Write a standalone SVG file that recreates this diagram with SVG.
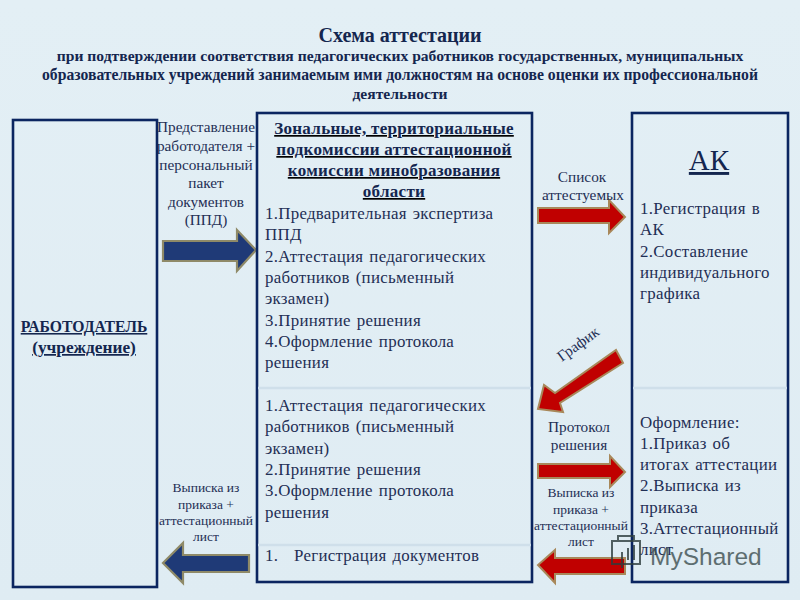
<svg xmlns="http://www.w3.org/2000/svg" width="800" height="600" viewBox="0 0 800 600">
<defs>
<linearGradient id="bg" x1="0" y1="0" x2="0" y2="1"><stop offset="0" stop-color="#e3eff5"/><stop offset="1" stop-color="#dfecf3"/></linearGradient>
</defs>
<style>
text{font-family:"Liberation Serif","Times New Roman",serif;fill:#1f2f55}
.box{fill:none;stroke:#0b2560;stroke-width:2.6}
.sep{stroke:#cfdfea;stroke-width:2.5}
.t{font-size:16.9px;letter-spacing:.27px;word-spacing:1.5px}
.s{font-size:15.3px;text-anchor:middle}
.xs{font-size:13.5px;text-anchor:middle}
.h{font-weight:bold;fill:#14264f}
.red{fill:#c00000;stroke:#a8885a;stroke-width:2}
.blue{fill:#1f3a77;stroke:#8f8a68;stroke-width:2.2}
</style>
<rect width="800" height="600" fill="url(#bg)"/>
<g id="title">
<text class="h" x="400" y="42" text-anchor="middle" font-size="20">Схема аттестации</text>
<text class="h" x="400" y="61" text-anchor="middle" font-size="15.6">при подтверждении соответствия педагогических работников государственных, муниципальных</text>
<text class="h" x="400" y="80" text-anchor="middle" font-size="15.7">образовательных учреждений занимаемым ими должностям на основе оценки их профессиональной</text>
<text class="h" x="400" y="99" text-anchor="middle" font-size="15.6">деятельности</text>
</g>
<g id="connectors">
<path id="arrow-ppd" class="blue" d="M163 241H237V230L256 250L237 271V261H163Z"/>
<path id="arrow-list" class="red" d="M538 208H609V200L625 217L609 233V223H538Z"/>
<path id="arrow-schedule" class="red" d="M616 350L623 363L560 403L563 412L538 409L544 385L555 393Z"/>
<path id="arrow-protocol" class="red" d="M538 464H610V456L625 472L610 487V478H538Z"/>
<path id="arrow-extract-right" class="red" d="M625 558V574H555V583L538 565L555 550V558Z"/>
<path id="arrow-extract-left" class="blue" d="M249 555V572H183V583L163 563L183 543V555Z"/>
</g>
<g id="employer">
<rect class="box" x="13" y="120" width="144" height="467"/>
<text class="h" x="84" y="332" text-anchor="middle" font-size="15.7" text-decoration="underline">РАБОТОДАТЕЛЬ</text>
<text class="h" x="84" y="353" text-anchor="middle" font-size="17.3" text-decoration="underline">(учреждение)</text>
</g>
<g id="subcommission">
<rect class="box" x="257" y="113" width="275" height="469"/>
<line class="sep" x1="258" y1="388" x2="531" y2="388"/>
<line class="sep" x1="258" y1="545" x2="531" y2="545"/>
<g font-size="17" text-anchor="middle" text-decoration="underline" letter-spacing=".3">
<text class="h" x="394" y="134">Зональные, территориальные</text>
<text class="h" x="394" y="155">подкомиссии аттестационной</text>
<text class="h" x="394" y="176">комиссии минобразования</text>
<text class="h" x="394" y="197">области</text>
</g>
<text class="t" x="265" y="219">1.Предварительная экспертиза</text>
<text class="t" x="265" y="240">ППД</text>
<text class="t" x="265" y="262">2.Аттестация педагогических</text>
<text class="t" x="265" y="283">работников (письменный</text>
<text class="t" x="265" y="304">экзамен)</text>
<text class="t" x="265" y="326">3.Принятие решения</text>
<text class="t" x="265" y="347">4.Оформление протокола</text>
<text class="t" x="265" y="368">решения</text>
<text class="t" x="265" y="411">1.Аттестация педагогических</text>
<text class="t" x="265" y="432">работников (письменный</text>
<text class="t" x="265" y="454">экзамен)</text>
<text class="t" x="265" y="475">2.Принятие решения</text>
<text class="t" x="265" y="496">3.Оформление протокола</text>
<text class="t" x="265" y="518">решения</text>
<text class="t" x="265" y="561">1.</text>
<text class="t" x="294" y="561">Регистрация документов</text>
</g>
<g id="ak">
<rect class="box" x="632" y="113" width="156" height="469"/>
<line class="sep" x1="633" y1="388" x2="787" y2="388"/>
<text x="709" y="170" text-anchor="middle" font-size="29" text-decoration="underline" style="fill:#14264f">АК</text>
<text class="t" x="640" y="214">1.Регистрация в</text>
<text class="t" x="640" y="235">АК</text>
<text class="t" x="640" y="257">2.Составление</text>
<text class="t" x="640" y="278">индивидуального</text>
<text class="t" x="640" y="299">графика</text>
<text class="t" x="640" y="428">Оформление:</text>
<text class="t" x="640" y="449">1.Приказ об</text>
<text class="t" x="640" y="470">итогах аттестации</text>
<text class="t" x="640" y="491">2.Выписка из</text>
<text class="t" x="640" y="513">приказа</text>
<text class="t" x="640" y="534">3.Аттестационный</text>
<text class="t" x="640" y="555">лист</text>
</g>
<g id="labels">
<text class="s" x="206" y="132">Представление</text>
<text class="s" x="206" y="151">работодателя +</text>
<text class="s" x="206" y="170">персональный</text>
<text class="s" x="206" y="188">пакет</text>
<text class="s" x="206" y="207">документов</text>
<text class="s" x="206" y="225">(ППД)</text>
<text class="s" x="582" y="182">Список</text>
<text class="s" x="583" y="200">аттестуемых</text>
<text class="s" x="581" y="348" transform="rotate(-36 581 348)">График</text>
<text class="s" x="579" y="432">Протокол</text>
<text class="s" x="579" y="450">решения</text>
<text class="xs" x="581" y="497">Выписка из</text>
<text class="xs" x="581" y="514">приказа +</text>
<text class="xs" x="581" y="530">аттестационный</text>
<text class="xs" x="581" y="546">лист</text>
<text class="xs" x="206" y="492">Выписка из</text>
<text class="xs" x="206" y="509">приказа +</text>
<text class="xs" x="206" y="525">аттестационный</text>
<text class="xs" x="206" y="541">лист</text>
</g>
<g id="watermark" opacity=".8">
<path d="M612 541H640V564H612ZM618 541V536H634V541M622 552V568M628 548V560M634 545V560" fill="none" stroke="#2d3d3d" stroke-width="2"/>
<text x="650" y="565" font-size="24.5" style="font-family:'Liberation Sans',Arial,sans-serif;fill:#3d4f50">MyShared</text>
</g>
</svg>
